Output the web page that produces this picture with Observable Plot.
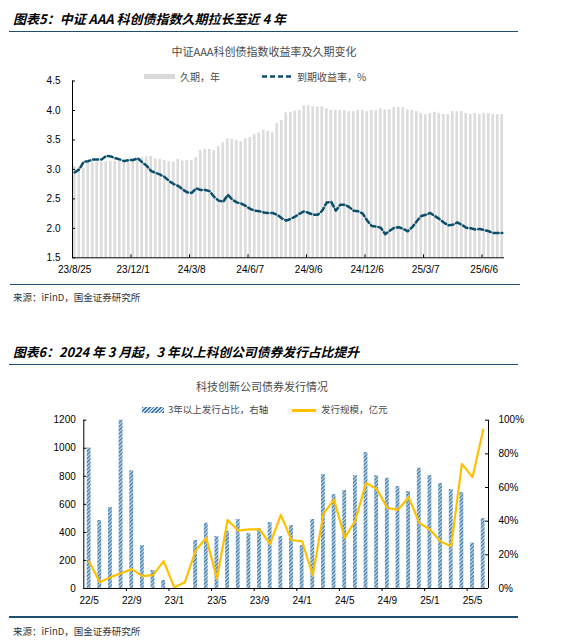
<!DOCTYPE html>
<html><head><meta charset="utf-8">
<script src="https://cdn.jsdelivr.net/npm/d3@7"></script>
<script src="https://cdn.jsdelivr.net/npm/@observablehq/plot@0.6"></script>
<style>
body{margin:0;background:#fff;}
#page{position:relative;width:562px;height:640px;overflow:hidden;font-family:"Noto Sans CJK SC","Noto Sans",sans-serif;}
.abs{position:absolute;white-space:nowrap;line-height:1;}
.title{font-weight:bold;font-style:italic;font-size:13px;color:#000;}
.rule{position:absolute;height:1.6px;background:#1f4e6e;}
.sub{font-size:11px;color:#4a4a4a;text-align:center;}
.leg{font-size:10px;color:#4a4a4a;}
.leg2{font-size:9.5px;color:#4a4a4a;}
.src{font-size:9.5px;color:#333;}
.chart{position:absolute;left:0;}
</style></head>
<body><div id="page">
<div id="c1" class="chart" style="top:65px"></div>
<div id="c2" class="chart" style="top:405px"></div>

<div class="abs title" style="left:13px;top:11.5px">图表5：中证 AAA 科创债指数久期拉长至近 4 年</div>
<div class="rule" style="left:9px;width:509px;top:30.5px"></div>
<div class="abs sub" style="left:0;width:528px;top:45.5px">中证AAA科创债指数收益率及久期变化</div>
<div class="abs" style="left:144px;top:74px;width:31px;height:5px;background:#d9d9d9"></div>
<div class="abs leg" style="left:180px;top:71.5px">久期，年</div>
<svg class="abs" style="left:262px;top:74px" width="32" height="5"><line x1="0" y1="2.5" x2="32" y2="2.5" stroke="#0b4f6c" stroke-width="2.5" stroke-dasharray="5,3"/></svg>
<div class="abs leg" style="left:297px;top:71.5px">到期收益率，%</div>
<div class="rule" style="left:10px;width:510px;top:283.5px"></div>
<div class="abs src" style="left:13px;top:292.5px">来源：iFinD，国金证券研究所</div>

<div class="abs title" style="left:13px;top:345.5px;font-size:12.8px">图表6：2024 年 3 月起，3 年以上科创公司债券发行占比提升</div>
<div class="rule" style="left:9px;width:509px;top:363.5px"></div>
<div class="abs sub" style="left:0;width:524px;top:380.5px">科技创新公司债券发行情况</div>
<div class="abs" style="left:142px;top:407px;width:22px;height:6px;background:repeating-linear-gradient(135deg,#3d78a6 0 1.2px,#c5dcee 1.2px 2.6px)"></div>
<div class="abs leg2" style="left:168px;top:405.3px">3年以上发行占比，右轴</div>
<div class="abs" style="left:292px;top:409px;width:24px;height:2.5px;background:#ffc000"></div>
<div class="abs leg2" style="left:321px;top:405.3px">发行规模，亿元</div>
<div class="rule" style="left:9px;width:509px;top:616px"></div>
<div class="abs src" style="left:13px;top:627px">来源：iFinD，国金证券研究所</div>
</div>
<script>
// ---------- Chart 1 data (weekly, 23/8/25 .. 25/6) ----------
const duration = [3.05,3.04,3.02,3.12,3.14,3.13,3.12,3.13,3.14,3.14,3.15,3.14,3.15,3.14,3.19,3.20,3.21,3.22,3.18,3.17,
3.15,3.13,3.12,3.17,3.14,3.15,3.15,3.20,3.32,3.34,3.34,3.32,3.39,3.45,3.52,3.51,3.49,3.47,3.52,3.54,
3.59,3.62,3.66,3.64,3.62,3.78,3.83,3.96,3.97,3.99,4.00,4.08,4.08,4.06,4.06,4.06,4.03,4.00,4.00,4.00,
4.00,3.98,3.98,4.00,4.00,3.98,4.00,4.00,4.03,4.01,4.01,4.05,4.05,4.05,4.01,4.00,3.98,3.95,3.93,3.95,
3.97,3.95,3.93,3.93,3.98,3.98,3.98,3.95,3.93,3.95,3.93,3.95,3.95,3.93,3.93,3.93];
const yieldRate = [2.95,3.00,3.13,3.14,3.17,3.17,3.17,3.23,3.22,3.19,3.17,3.14,3.16,3.16,3.19,3.12,3.06,2.97,2.94,2.91,
2.87,2.80,2.75,2.72,2.66,2.61,2.60,2.68,2.65,2.65,2.63,2.53,2.47,2.45,2.57,2.49,2.44,2.42,2.38,2.33,
2.30,2.29,2.27,2.26,2.26,2.23,2.17,2.13,2.16,2.20,2.25,2.29,2.26,2.23,2.23,2.30,2.44,2.45,2.30,2.40,
2.40,2.36,2.30,2.29,2.25,2.13,2.04,2.03,2.01,1.90,1.96,2.01,2.02,1.99,1.95,2.02,2.12,2.21,2.23,2.26,
2.21,2.16,2.10,2.05,2.06,2.10,2.06,2.01,2.00,1.98,1.99,1.97,1.95,1.92,1.92,1.92];
const xLabels1 = ["23/8/25","23/12/1","24/3/8","24/6/7","24/9/6","24/12/6","25/3/7","25/6/6"];
const xLabelStep1 = 13;
const yTicks1 = [1.5,2.0,2.5,3.0,3.5,4.0,4.5];

// ---------- Chart 2 data (monthly, 22/5 .. 25/6) ----------
const share3y = [83.5,40.4,48.1,100,70,25.5,10.7,4.8,0,0,28.5,38.8,30.9,33.9,41,32.7,35.4,39.2,30.9,37.4,
25.5,41,67.7,55.8,58.2,67.1,80.8,67.1,65.5,60.6,57.6,71.5,67.1,62.4,58.8,57,26.9,41.6];
const issuance = [192,45,81,109,138,88,95,195,7,45,271,361,69,489,413,421,421,318,525,345,
337,93,532,634,361,485,753,710,575,561,651,468,421,335,302,889,794,1131];
const xLabels2 = ["22/5","22/9","23/1","23/5","23/9","24/1","24/5","24/9","25/1","25/5"];
const xLabelStep2 = 4;
const leftTicks2 = [0,200,400,600,800,1000,1200];
const rightTicks2 = [0,20,40,60,80,100];

const axisStyle = {fontFamily:"'Liberation Sans', Arial, sans-serif", fontSize:"10px", color:"#000", background:"transparent", overflow:"visible"};

// Chart 1
{
  const n = duration.length;
  const idx = d3.range(n);
  const W = 562, H = 215, mL = 72, mR = 58, mT = 15.5, mB = 22.7;
  const pxPerCat = (W - mL - mR) / n;
  const pxPerUnit = (H - mT - mB) / 3;
  const labelPos = xLabels1.map((_, k) => k * xLabelStep1);
  const tickPos = labelPos.map(p => p - 0.5).filter(p => p > -0.5);
  const chart = Plot.plot({
    width: W, height: H, marginTop: mT, marginBottom: mB, marginLeft: mL, marginRight: mR,
    style: axisStyle,
    x: {type: "linear", domain: [-0.5, n - 0.5]},
    y: {domain: [1.5, 4.5]},
    marks: [
      Plot.rectY(idx, {x1: i => i - 0.3, x2: i => i + 0.3, y1: 1.5, y2: i => duration[i], fill: "#dcdcdc"}),
      Plot.line(idx, {x: i => i, y: i => yieldRate[i], stroke: "#0b4f6c", strokeWidth: 2.5, strokeDasharray: "5,3"}),
      Plot.ruleX([-0.5], {stroke: "#000"}),
      Plot.ruleY([1.5], {stroke: "#000"}),
      Plot.ruleY(yTicks1, {x1: -0.5, x2: -0.5 + 3 / pxPerCat, stroke: "#000"}),
      Plot.ruleX(tickPos, {y1: 1.5, y2: 1.5 + 3 / pxPerUnit, stroke: "#000"}),
      Plot.axisY(yTicks1, {tickSize: 0, tickPadding: 12, tickFormat: d => d.toFixed(1)}),
      Plot.axisX(labelPos, {tickSize: 0, tickPadding: 8, tickFormat: d => xLabels1[labelPos.indexOf(d)]})
    ]
  });
  document.getElementById("c1").appendChild(chart);
}

// Chart 2
{
  const n = share3y.length;
  const idx = d3.range(n);
  const W = 562, H = 205, mL = 83.3, mR = 74, mT = 14.7, mB = 22;
  const pxPerCat = (W - mL - mR) / n;
  const pxPerUnit = (H - mT - mB) / 1200;
  const labelPos = xLabels2.map((_, k) => k * xLabelStep2);
  const tickPos = labelPos.map(p => p - 0.5).filter(p => p > -0.5);
  const rightPos = rightTicks2.map(p => p * 12);
  const defs = () => {
    const d = d3.create("svg:defs");
    const p = d.append("pattern").attr("id", "hatch").attr("width", 2.6).attr("height", 2.6)
      .attr("patternUnits", "userSpaceOnUse").attr("patternTransform", "rotate(45)");
    p.append("rect").attr("width", 2.6).attr("height", 2.6).attr("fill", "#c5dcee");
    p.append("rect").attr("width", 1.3).attr("height", 2.6).attr("fill", "#3d78a6");
    return d.node();
  };
  const chart = Plot.plot({
    width: W, height: H, marginTop: mT, marginBottom: mB, marginLeft: mL, marginRight: mR,
    style: axisStyle,
    x: {type: "linear", domain: [-0.5, n - 0.5]},
    y: {domain: [0, 1200]},
    marks: [
      defs,
      Plot.rectY(idx, {x1: i => i - 0.18, x2: i => i + 0.18, y1: 0, y2: i => share3y[i] * 12, fill: "url(#hatch)"}),
      Plot.line(idx, {x: i => i, y: i => issuance[i], stroke: "#ffc000", strokeWidth: 2.2}),
      Plot.ruleX([-0.5, n - 0.5], {stroke: "#000"}),
      Plot.ruleY([0], {stroke: "#000"}),
      Plot.ruleY(leftTicks2, {x1: -0.5, x2: -0.5 + 3 / pxPerCat, stroke: "#000"}),
      Plot.ruleY(rightPos, {x1: n - 0.5 - 3 / pxPerCat, x2: n - 0.5, stroke: "#000"}),
      Plot.ruleX(tickPos, {y1: 0, y2: -3 / pxPerUnit, stroke: "#000"}),
      Plot.axisY(leftTicks2, {anchor: "left", tickSize: 0, tickPadding: 8, tickFormat: d => String(d)}),
      Plot.axisY(rightPos, {anchor: "right", tickSize: 0, tickPadding: 10, tickFormat: d => (d / 12) + "%"}),
      Plot.axisX(labelPos, {tickSize: 0, tickPadding: 8, tickFormat: d => xLabels2[labelPos.indexOf(d)]})
    ]
  });
  document.getElementById("c2").appendChild(chart);
}
</script>
</body></html>
